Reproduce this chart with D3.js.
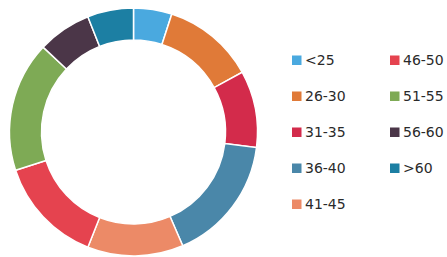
<!DOCTYPE html>
<html>
<head>
<meta charset="utf-8">
<script src="https://cdn.jsdelivr.net/npm/d3@7"></script>
<style>
html,body{margin:0;padding:0;background:#fff;}
svg{display:block;}
</style>
</head>
<body>
<svg id="chart" width="447" height="257"></svg>
<script>
const categories = ["<25","26-30","31-35","36-40","41-45","46-50","51-55","56-60",">60"];
const values = [5, 12, 10, 16.5, 12.5, 14, 17, 7, 6];
const colors = ["#4aa9df","#e07a38","#d32b4b","#4a87a9","#ec8a67","#e5434f","#7eaa55","#4b3648","#1c7fa3"];

const svg = d3.select("#chart");
const cx = 133.5, cy = 132, rOuter = 124, rInner = 92;

const pie = d3.pie().sort(null).value(d => d.v);
const arc = d3.arc().innerRadius(rInner).outerRadius(rOuter);
const data = categories.map((c, i) => ({c, v: values[i], col: colors[i]}));

svg.append("g").attr("transform", `translate(${cx},${cy})`)
  .selectAll("path").data(pie(data)).join("path")
  .attr("d", arc)
  .attr("fill", d => d.data.col)
  .attr("stroke", "#fff")
  .attr("stroke-width", 1.5);

const legend = svg.append("g");
const rowY = d3.scalePoint().domain(d3.range(5)).range([60, 204]);
const colX = [292, 390];
data.forEach((d, i) => {
  const col = i < 5 ? 0 : 1;
  const row = i < 5 ? i : i - 5;
  const g = legend.append("g").attr("transform", `translate(${colX[col]},${rowY(row)})`);
  g.append("rect").attr("x", 0).attr("y", -4.5).attr("width", 9.5).attr("height", 9.5).attr("fill", d.col);
  g.append("text").attr("x", 13).attr("y", 0).attr("dy", "0.36em")
    .attr("font-family", "DejaVu Sans, sans-serif").attr("font-size", 14)
    .attr("fill", "#2a2a2a").text(d.c);
});
</script>
</body>
</html>
